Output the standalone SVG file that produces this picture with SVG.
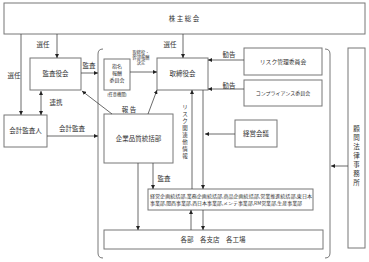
<svg xmlns="http://www.w3.org/2000/svg" width="369" height="262" viewBox="0 0 369 262">
<defs>
<marker id="ah" viewBox="0 0 6 6" refX="6" refY="3" markerWidth="4" markerHeight="4" orient="auto-start-reverse" markerUnits="userSpaceOnUse">
<path d="M0,0 L6,3 L0,6 Z" fill="#222"/>
</marker>
<style>
.box{fill:#fff;stroke:#777;stroke-width:1}
.ln{fill:none;stroke:#555;stroke-width:0.8}
.ar{fill:none;stroke:#444;stroke-width:0.8;marker-end:url(#ah)}
.t{font-family:"Noto Sans CJK JP","Noto Sans",sans-serif;fill:#333;text-anchor:middle}
.s7{font-size:6.5px}
.s6{font-size:5.8px}
.s5{font-size:5px}
.s55{font-size:5.5px}
.s4{font-size:4.2px}
</style>
</defs>
<rect width="369" height="262" fill="#fff"/>

<g id="kabunushi"><rect class="box" x="4" y="3" width="361" height="31"/><text class="t s7" x="184" y="21">株 主 総 会</text></g>
<g id="kansayakukai"><rect class="box" x="30" y="58" width="51" height="32"/><text class="t s7" x="55.5" y="76">監査役会</text></g>
<g id="kaikeikansanin"><rect class="box" x="4" y="115" width="43" height="32"/><text class="t s7" x="25.5" y="133">会計監査人</text></g>
<g id="bracket">
<path class="ln" d="M103,49 Q98,49 98,54 L98,253 Q98,258 103,258"/>
<path class="ln" d="M325,49 Q330,49 330,54 L330,253 Q330,258 325,258"/>
</g>
<g id="shimei"><rect class="box" x="104" y="59" width="26" height="31"/>
<text class="t s5" x="117" y="68">指名</text><text class="t s5" x="117" y="75">報酬</text><text class="t s5" x="117" y="82">委員会</text>
<text class="t s4" x="117" y="96">(任意機関)</text></g>
<g id="torishimariyakukai"><rect class="box" x="157" y="58" width="51" height="32"/><text class="t s7" x="182.5" y="76">取締役会</text></g>
<g id="risk"><rect class="box" x="244" y="48" width="78" height="27"/><text class="t s6" x="283" y="64">リスク管理委員会</text></g>
<g id="compliance"><rect class="box" x="244" y="80" width="78" height="26"/><text class="t s5" x="283" y="95">コンプライアンス委員会</text></g>
<g id="kigyohinshitsu"><rect class="box" x="104" y="114" width="69" height="49"/><text class="t s7" x="138.5" y="141">企業品質統括部</text></g>
<g id="keieikaigi"><rect class="box" x="235" y="120" width="42" height="27"/><text class="t s7" x="256" y="136">経営会議</text></g>
<g id="jigyobu"><rect class="box" x="148" y="189" width="165" height="21"/>
<text class="t s4" x="150" y="198" style="text-anchor:start" textLength="162" lengthAdjust="spacingAndGlyphs">経営企画統括部,業務企画統括部,商品企画統括部,営業推進統括部,東日本</text>
<text class="t s4" x="150" y="205" style="text-anchor:start" textLength="152" lengthAdjust="spacingAndGlyphs">事業部,関西事業部,西日本事業部,メンテ事業部,RM営業部,生産事業部</text></g>
<g id="kakubu"><rect class="box" x="104" y="230" width="219" height="19"/><text class="t s7" x="213" y="242">各部　各支店　各工場</text></g>
<g id="komon"><rect class="box" x="348" y="48" width="17" height="200"/>
<text class="t s7" x="356.5" y="131">顧</text><text class="t s7" x="356.5" y="140">問</text><text class="t s7" x="356.5" y="149">法</text><text class="t s7" x="356.5" y="158">律</text><text class="t s7" x="356.5" y="167">事</text><text class="t s7" x="356.5" y="176">務</text><text class="t s7" x="356.5" y="185">所</text></g>

<g id="connectors">
<path class="ar" d="M21,34 V115"/>
<path class="ar" d="M57,34 V58"/>
<path class="ar" d="M183,34 V58"/>
<path class="ar" d="M81,73 H98"/>
<path class="ar" d="M41,91 V115" style="marker-start:url(#ah)"/>
<path class="ar" d="M47,136 H98"/>
<path class="ar" d="M130,72 H157"/>
<path class="ar" d="M244,60 H208"/>
<path class="ar" d="M244,89 H208"/>
<path class="ar" d="M112,114 L82,91"/>
<path class="ar" d="M148,114 L157,90"/>
<path class="ar" d="M235,134 H205"/>
<path class="ar" d="M192,189 V90"/>
<path class="ar" d="M203,90 V189"/>
<path class="ar" d="M138,163 V230"/>
<path class="ar" d="M153,163 V189"/>
<path class="ar" d="M191,230 V210"/>
<path class="ar" d="M203,210 V230"/>
<path class="ar" d="M348,166 H331"/>
</g>

<g id="labels">
<text class="t s7" x="43" y="47">選任</text>
<text class="t s7" x="170" y="47">選任</text>
<text class="t s7" x="14" y="78">選任</text>
<text class="t s7" x="89" y="68">監査</text>
<text class="t s4" x="141" y="54">取締役・</text>
<text class="t s4" x="141" y="59">幹部報酬</text>
<text class="t s4" x="141" y="64">決定</text>
<text class="t s7" x="229" y="57">勧告</text>
<text class="t s7" x="229" y="88">勧告</text>
<text class="t s7" x="56" y="105">連携</text>
<text class="t s7" x="72" y="131">会計監査</text>
<text class="t s7" x="129" y="112">報 告</text>
<text class="t s7" x="164" y="181">監査</text>
<text class="t s55" x="185" y="109">リ</text><text class="t s55" x="185" y="116">ス</text><text class="t s55" x="185" y="123">ク</text><text class="t s55" x="185" y="130">関</text><text class="t s55" x="185" y="137">連</text><text class="t s55" x="185" y="144">他</text><text class="t s55" x="185" y="151">情</text><text class="t s55" x="185" y="158">報</text>
</g>
</svg>
